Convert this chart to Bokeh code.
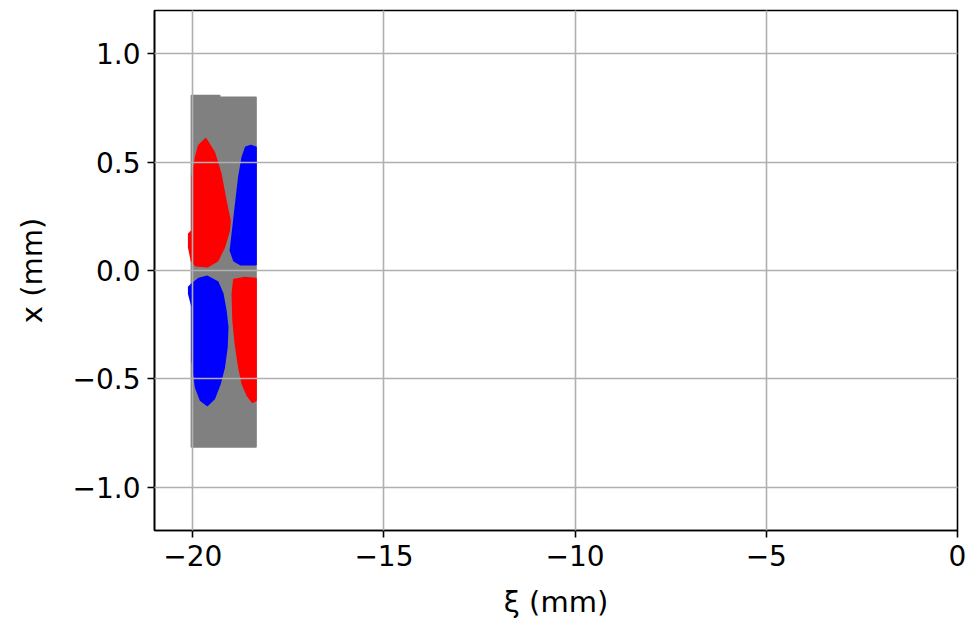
from bokeh.plotting import figure
from bokeh.models import FixedTicker, ColumnDataSource
from bokeh.embed import file_html
from bokeh.resources import INLINE

# Outline of the whole beam slice (xi, x in mm)
beam_xi = [-20.03, -19.30, -19.30, -18.35, -18.35, -20.03]
beam_x = [0.806, 0.806, 0.799, 0.799, -0.814, -0.814]

# Upper-left (red) lobe
red_up_xi = [-19.66, -19.44, -19.27, -19.14, -19.03, -19.05, -19.18, -19.35, -19.62,
             -19.92, -20.03, -20.10, -20.10, -20.01, -20.01, -19.92, -19.84]
red_up_x = [0.607, 0.545, 0.446, 0.323, 0.230, 0.184, 0.107, 0.046, 0.018,
            0.023, 0.046, 0.107, 0.169, 0.184, 0.430, 0.522, 0.576]

# Upper-right (blue) lobe
blue_up_xi = [-18.48, -18.61, -18.70, -18.79, -18.85, -18.92, -18.98, -19.01, -18.92,
              -18.75, -18.35, -18.35]
blue_up_x = [0.576, 0.568, 0.522, 0.430, 0.338, 0.230, 0.138, 0.092, 0.046,
             0.028, 0.028, 0.568]

# Lower-left (blue) lobe
blue_lo_xi = [-19.84, -19.62, -19.35, -19.22, -19.14, -19.09, -19.11, -19.18, -19.29,
              -19.44, -19.62, -19.79, -19.92, -20.01, -20.01, -20.10, -20.10, -20.01]
blue_lo_x = [-0.038, -0.028, -0.054, -0.107, -0.184, -0.261, -0.353, -0.446, -0.522,
             -0.591, -0.622, -0.599, -0.538, -0.415, -0.169, -0.107, -0.077, -0.061]

# Lower-right (red) lobe
red_lo_xi = [-18.92, -18.96, -18.94, -18.88, -18.79, -18.70, -18.57, -18.44, -18.35,
             -18.35, -18.66]
red_lo_x = [-0.043, -0.107, -0.230, -0.338, -0.446, -0.522, -0.576, -0.607, -0.599,
            -0.038, -0.034]

x_ticks = [-20, -15, -10, -5, 0]
x_tick_labels = ["\u221220", "\u221215", "\u221210", "\u22125", "0"]
y_ticks = [-1.0, -0.5, 0.0, 0.5, 1.0]
y_tick_labels = ["\u22121.0", "\u22120.5", "0.0", "0.5", "1.0"]

p = figure(width=967, height=624, x_range=(-21, 0), y_range=(-1.2, 1.2),
           output_backend="svg", toolbar_location=None,
           min_border_left=154, min_border_right=10,
           min_border_top=10, min_border_bottom=94)

src = ColumnDataSource(dict(
    xs=[beam_xi, red_up_xi, blue_up_xi, blue_lo_xi, red_lo_xi],
    ys=[beam_x, red_up_x, blue_up_x, blue_lo_x, red_lo_x],
    color=["#808080", "#ff0000", "#0000ff", "#0000ff", "#ff0000"],
))
p.patches("xs", "ys", source=src, fill_color="color", line_color="color",
          line_width=2, line_join="round")

for ax in (p.xaxis[0], p.yaxis[0]):
    ax.major_label_text_font = "DejaVu Sans"
    ax.major_label_text_font_size = "28px"
    ax.major_label_text_color = "black"
    ax.axis_label_text_font = "DejaVu Sans"
    ax.axis_label_text_font_size = "29px"
    ax.axis_label_text_font_style = "normal"
    ax.axis_label_text_color = "black"
    ax.major_tick_out = 7
    ax.major_tick_in = 0
    ax.minor_tick_out = 0
    ax.minor_tick_in = 0
    ax.axis_line_width = 1.6
    ax.major_tick_line_width = 1.6
    ax.major_label_standoff = 7

p.xaxis.ticker = FixedTicker(ticks=x_ticks)
p.yaxis.ticker = FixedTicker(ticks=y_ticks)
p.xaxis.major_label_overrides = {t: s for t, s in zip(x_ticks, x_tick_labels)}
p.yaxis.major_label_overrides = {t: s for t, s in zip(y_ticks, y_tick_labels)}
p.xaxis.axis_label = "\u03be (mm)"
p.yaxis.axis_label = "x (mm)"
p.xaxis.axis_label_standoff = 16
p.yaxis.axis_label_standoff = 21

p.xgrid.ticker = FixedTicker(ticks=x_ticks)
p.ygrid.ticker = FixedTicker(ticks=y_ticks)
for g in (p.xgrid[0], p.ygrid[0]):
    g.grid_line_color = "#b0b0b0"
    g.grid_line_width = 1.6
    g.level = "overlay"

p.outline_line_color = "black"
p.outline_line_width = 1.6
p.outline_line_alpha = 1.0
p.background_fill_color = "white"
p.border_fill_color = "white"

open("out.html", "w").write(file_html(p, INLINE))
